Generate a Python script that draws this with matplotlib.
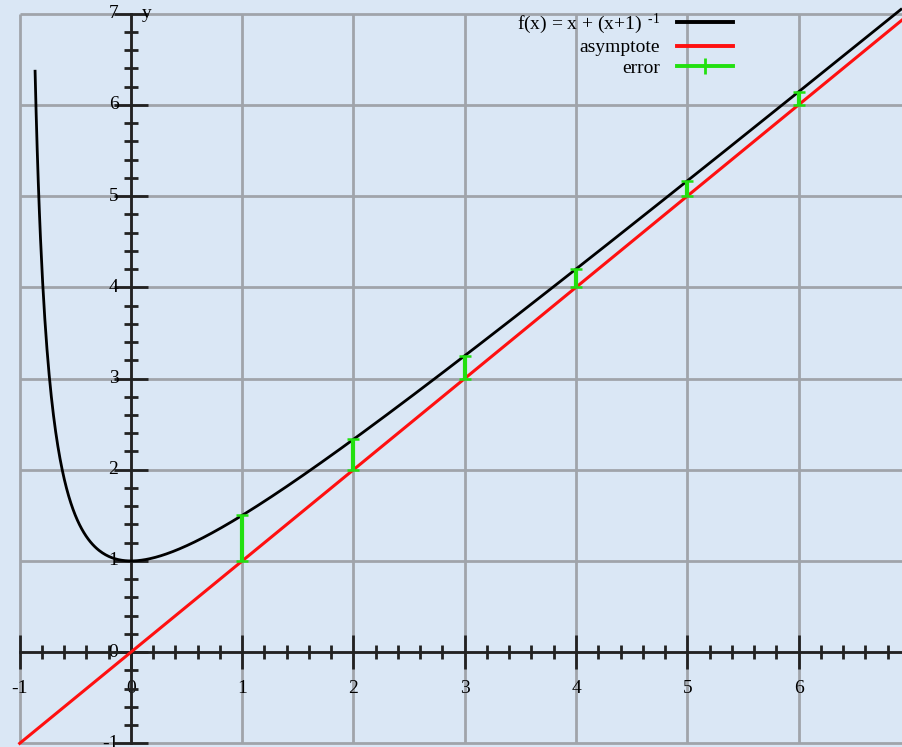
import numpy as np
import matplotlib
matplotlib.use("Agg")
import matplotlib.pyplot as plt
from matplotlib.lines import Line2D

plt.rcParams['font.family'] = ['Liberation Serif', 'DejaVu Serif']
plt.rcParams['mathtext.fontset'] = 'custom'
plt.rcParams['mathtext.rm'] = 'Liberation Serif'
plt.rcParams['mathtext.it'] = 'Liberation Serif:italic'

# data
curve_x_start = -0.862
curve_x_end = 6.93
err_x = [1, 2, 3, 4, 5, 6]
err_low = [1, 2, 3, 4, 5, 6]
err_high = [1.5, 2.333, 3.25, 4.2, 5.167, 6.143]
asym_x = [-1.0, 6.93]
asym_y = [-1.0, 6.93]
xticks_major = [-1, 0, 1, 2, 3, 4, 5, 6]
yticks_major = [-1, 0, 1, 2, 3, 4, 5, 6, 7]

XMIN, XMAX = -1.177, 6.93
YMIN, YMAX = -1.04, 7.15

fig = plt.figure(figsize=(9.02, 7.47), dpi=100)
bg = '#dae7f5'
fig.patch.set_facecolor(bg)
ax = fig.add_axes([0, 0, 1, 1])
ax.set_facecolor(bg)
ax.set_xlim(XMIN, XMAX)
ax.set_ylim(YMIN, YMAX)

grid_c = '#a0a4aa'
ax.vlines(xticks_major, -1, 7, color=grid_c, lw=2.0, zorder=1)
ax.hlines(yticks_major, -1, XMAX, color=grid_c, lw=2.0, zorder=1)

# axes through origin
for s in ['top', 'right']:
    ax.spines[s].set_visible(False)
ax.spines['left'].set_position(('data', 0))
ax.spines['bottom'].set_position(('data', 0))
ax.spines['left'].set_bounds(-1, 7)
ax.spines['bottom'].set_bounds(-1, XMAX)
for s in ['left', 'bottom']:
    ax.spines[s].set_linewidth(2.0)
    ax.spines[s].set_color('#222222')
    ax.spines[s].set_zorder(3)

ax.set_xticks(xticks_major)
ax.set_yticks(yticks_major)
ax.set_xticks(np.round(np.arange(-1, 6.95, 0.2), 6), minor=True)
ax.set_yticks(np.round(np.arange(-1, 7.01, 0.2), 6), minor=True)
ax.tick_params(which='major', direction='inout', length=24, width=2.0, color='#222222', labelsize=14)
ax.tick_params(which='minor', direction='inout', length=10, width=2.0, color='#222222')
ax.tick_params(axis='x', which='major', pad=8)
ax.tick_params(axis='y', which='major', pad=-3)
ax.set_xticklabels([str(v) for v in xticks_major])
ax.set_yticklabels([str(v) for v in yticks_major])
for lab in ax.get_yticklabels():
    lab.set_verticalalignment('center')

ax.text(0.1, 7.0, 'y', fontsize=14, ha='left', va='center')

# curve f(x) = x + 1/(x+1)
xs = np.linspace(curve_x_start, curve_x_end, 800)
ax.plot(xs, xs + 1.0 / (xs + 1.0), color='black', lw=2.0, zorder=5,
        solid_capstyle='butt')
ax.plot(asym_x, asym_y, color='#ff1010', lw=2.2, zorder=5)

err = np.array(err_high) - np.array(err_low)
ax.errorbar(err_x, err_low, yerr=[np.zeros(len(err)), err], fmt='none',
            ecolor='#22e010', elinewidth=3, capsize=4.5, capthick=1.8, zorder=6)

handles = [Line2D([], [], color='black', lw=2.8),
           Line2D([], [], color='#ff1010', lw=2.8),
           Line2D([], [], color='#22e010', lw=2.8, marker='|', markersize=11,
                  markeredgewidth=2)]
labels = [r'f(x) = x + (x+1)$^{\ \ \mathrm{\text{-}1}}$', 'asymptote', 'error']
leg = ax.legend(handles, labels, loc='upper right', bbox_to_anchor=(0.8215, 0.995),
                frameon=False, markerfirst=False, fontsize=14, handlelength=2.9,
                handletextpad=0.85, labelspacing=0.15, numpoints=1,
                borderaxespad=0.0)
leg.set_zorder(10)

fig.savefig('out.png', dpi=100, facecolor=bg)
